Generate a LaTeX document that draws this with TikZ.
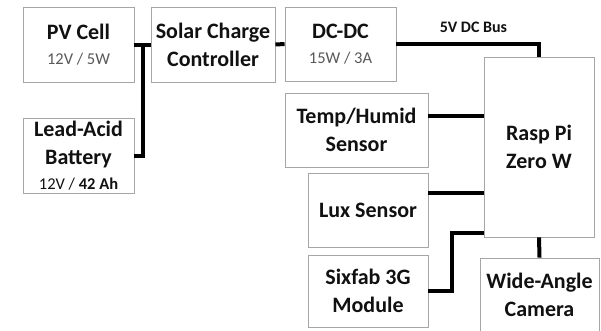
\documentclass[tikz,border=0pt]{standalone}
\usepackage{fontspec}
\setmainfont{Carlito}
\usepackage{tikz}
\usetikzlibrary{calc,positioning}

\begin{document}
\begin{tikzpicture}[x=1pt,y=-1pt,
        blk/.style={draw=boxGray,line width=0.9pt,align=center,inner sep=0pt,text=txtDark,
            font=\fontsize{22}{28}\selectfont\bfseries},
        wire/.style={line width=4pt,black}]
            \definecolor{boxGray}{HTML}{A6A6A6}
            \definecolor{txtDark}{HTML}{111111}
            \definecolor{txtGray}{HTML}{595959}

            \useasboundingbox[fill=white] (0,0) rectangle (601,330);

            \node[blk,minimum width=111,minimum height=75] (pv) at (78.5,44.5)
                {PV Cell\\[-3pt]{\fontsize{16.5}{20}\selectfont\mdseries\color{txtGray}12V / 5W}};
            \node[blk,minimum width=124,minimum height=75] (scc) at (213,44.5) {Solar Charge\\Controller};
            \node[blk,minimum width=111,minimum height=74] (dcdc) at (340.5,44)
                {DC-DC\\[-3pt]{\fontsize{16.5}{20}\selectfont\mdseries\color{txtGray}15W / 3A}};
            \node[blk,minimum width=111,minimum height=75] (bat) at (78.5,155.5)
                {Lead-Acid\\Battery\\[-3pt]{\fontsize{16.5}{20}\selectfont\mdseries 12V / \bfseries 42 Ah}};
            \node[blk,minimum width=110,minimum height=180] (pi) at (539,147) {Rasp Pi\\Zero W};
            \node[blk,minimum width=143,minimum height=74] (temp) at (356.5,130) {Temp/Humid\\Sensor};
            \node[blk,minimum width=120,minimum height=74] (lux) at (368,210) {Lux Sensor};
            \node[blk,minimum width=120,minimum height=72] (six) at (368,291) {Sixfab 3G\\Module};
            \node[blk,minimum width=119,minimum height=74] (cam) at (539.5,295) {Wide-Angle\\Camera};

            \draw[wire] (pv.east) -- (scc.west);
            \draw[wire] (bat.east) -| ($(pv.east)!0.5!(scc.west)$);
            \draw[wire] (scc.east) -- (dcdc.west);
            \draw[wire] (dcdc.east) -| (pi.north)
                node[pos=0.27,above=6pt,font=\fontsize{16}{18}\selectfont\bfseries,text=txtDark] (bus) {5V DC Bus};
            \draw[wire] (temp.east) ++(0,-14) coordinate (tempTap) -- (tempTap -| pi.west);
            \draw[wire] (lux.east) ++(0,-17) coordinate (luxTap) -- (luxTap -| pi.west);
            \draw[wire] (six.east) -- ++(24,0) |- ($(pi.south west)+(0,-4)$);
            \draw[wire] (pi.south) -- (cam.north);
        \end{tikzpicture}
\end{document}
